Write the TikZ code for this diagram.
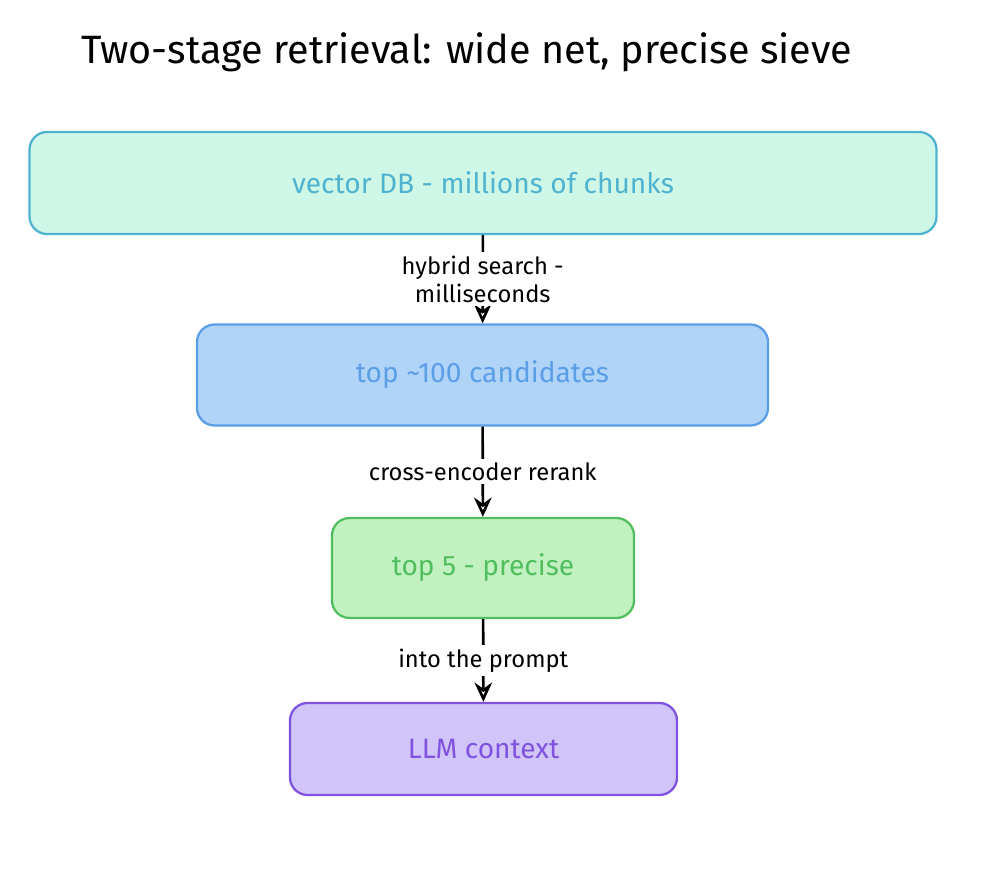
\documentclass[tikz,border=0pt]{standalone}
\usepackage{fontspec}
\setmainfont{Fira Sans}
\usetikzlibrary{positioning, arrows.meta}
\definecolor{dbfill}{HTML}{CFF7E8}\definecolor{dbline}{HTML}{4FB3CF}
\definecolor{candfill}{HTML}{B0D4F8}\definecolor{candline}{HTML}{5B9EE8}
\definecolor{topfill}{HTML}{C1F0C1}\definecolor{topline}{HTML}{52BF5F}
\definecolor{llmfill}{HTML}{D0C4F8}\definecolor{llmline}{HTML}{8052E0}

\begin{document}
\begin{tikzpicture}[>=Stealth,
    box/.style = {draw, line width=1.3pt, rounded corners=10pt, align=center,
                  font=\fontsize{16}{19}\selectfont},
    arrow/.style = {line width=1.5pt, -{Stealth[length=11pt, width=10pt, open]}},
    lbl/.style = {fill=white, align=center, inner sep=2pt,
                  font=\fontsize{13.5}{16}\selectfont}]

    \useasboundingbox (0,0) rectangle (20,-17.64);

    % Title
    \node [anchor=west, font=\fontsize{22.5}{26}\selectfont] (title) at (1.5,-1.04)
        {Two-stage retrieval: wide net, precise sieve};

    % Stages
    \node [box, fill=dbfill, draw=dbline, text=dbline, minimum width=18.14cm, minimum height=2.04cm]
        (db) at (9.66,-3.66) {vector DB - millions of chunks};
    \node [box, fill=candfill, draw=candline, text=candline, minimum width=11.42cm, minimum height=2.02cm]
        (cand) at (9.65,-7.5) {top \textasciitilde100 candidates};
    \node [box, fill=topfill, draw=topline, text=topline, minimum width=6.04cm, minimum height=2.0cm]
        (top) at (9.66,-11.36) {top 5 - precise};
    \node [box, fill=llmfill, draw=llmline, text=llmline, minimum width=7.74cm, minimum height=1.84cm]
        (llm) at (9.67,-14.98) {LLM context};

    % Transitions
    \draw [arrow] (db) -- node[lbl] {hybrid search -\\milliseconds} (cand);
    \draw [arrow] (cand) -- node[lbl] {cross-encoder rerank} (top);
    \draw [arrow] (top) -- node[lbl] {into the prompt} (llm);
\end{tikzpicture}
\end{document}
